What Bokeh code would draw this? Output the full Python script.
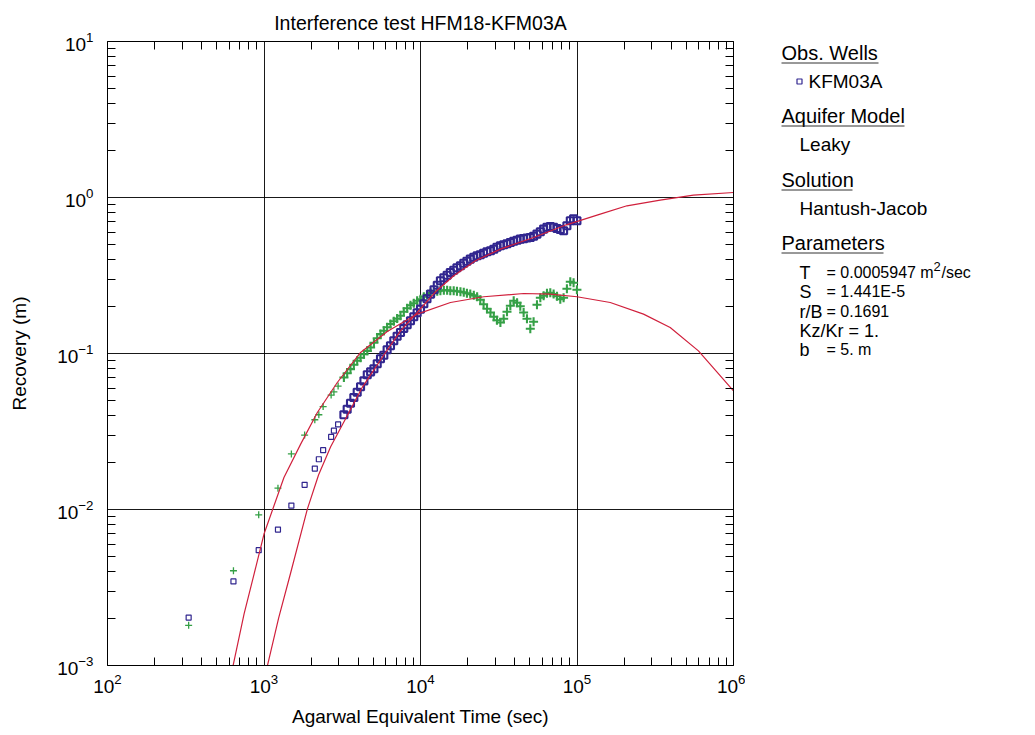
from bokeh.plotting import figure
from bokeh.layouts import row
from bokeh.models import Range1d, LogAxis, FixedTicker, CustomJSTickFormatter
from bokeh.core.properties import value
from bokeh.embed import file_html
from bokeh.resources import INLINE

FONT = "Liberation Sans"

# ---------------- data ----------------
# shared elapsed Agarwal equivalent times (s)
time_s = [330, 638, 925, 1228, 1496, 1818, 2112, 2241, 2387, 2685, 2797, 2975,
          3240, 3400, 3570, 3750, 3940, 4140, 4350, 4570, 4800, 5040,
          5290, 5550, 5830, 6120, 6430, 6750, 7090, 7450, 7820, 8220,
          8630, 9060, 9520, 10000, 10500, 11000, 11600, 12200, 12800, 13400,
          14100, 14800, 15500, 16300, 17100, 18000, 18900, 19800, 20800, 21900,
          23000, 24100, 25300, 26600, 28000, 29400, 30800, 32400, 34000, 35700,
          37500, 39400, 41400, 43400, 45600, 47900, 50300, 52800, 55500, 58300,
          61200, 64300, 67500, 70900, 74500, 78200, 82100, 86200, 90600, 95100,
          99900]

# KFM03A observed recovery (m) - blue squares
kfm03a_recovery = [0.00203, 0.00346, 0.00549, 0.00744, 0.0106, 0.0144, 0.0183, 0.0210,
                   0.0240, 0.0292, 0.0320, 0.0351,
                   0.0405, 0.0439, 0.0480, 0.0522, 0.0564, 0.0612, 0.0668, 0.0730, 0.0763, 0.0798,
                   0.0859, 0.0925, 0.0974, 0.1056, 0.1121, 0.1206, 0.1289, 0.1363, 0.1450, 0.1528,
                   0.1621, 0.1719, 0.1824, 0.1926, 0.2083, 0.2242, 0.2403, 0.2560, 0.2736, 0.2924,
                   0.3056, 0.3172, 0.3306, 0.3415, 0.3544, 0.3650, 0.3788, 0.3899, 0.4028, 0.4137,
                   0.4229, 0.4292, 0.4388, 0.4486, 0.4553, 0.4655, 0.4795, 0.4902, 0.4975, 0.5049,
                   0.5146, 0.5238, 0.5316, 0.5411, 0.5451, 0.5500, 0.5541, 0.5641, 0.5827, 0.6027,
                   0.6272, 0.6442, 0.6518, 0.6442, 0.6329, 0.6236, 0.6116, 0.6586, 0.7088, 0.7302,
                   0.7088]

# second observation series (m) - green crosses
second_recovery = [0.00181, 0.00405, 0.00925, 0.0137, 0.0227, 0.0300, 0.0376, 0.0405,
                   0.0457, 0.0541, 0.0568, 0.0618,
                   0.0702, 0.0747, 0.0794, 0.0847, 0.0898, 0.0939, 0.0988, 0.1040, 0.1093, 0.1171,
                   0.1252, 0.1332, 0.1398, 0.1472, 0.1544, 0.1609, 0.1674, 0.1745, 0.1851, 0.1949,
                   0.2037, 0.2098, 0.2177, 0.2226, 0.2310, 0.2378, 0.2439, 0.2468, 0.2504, 0.2523,
                   0.2541, 0.2541, 0.2523, 0.2523, 0.2504, 0.2486, 0.2468, 0.2431, 0.2403, 0.2360,
                   0.2310, 0.2209, 0.2067, 0.1934, 0.1832, 0.1719, 0.1632, 0.1580, 0.1669, 0.1851,
                   0.2022, 0.2177, 0.2113, 0.2007, 0.1832, 0.1669, 0.1440, 0.1597, 0.2052, 0.2276,
                   0.2343, 0.2431, 0.2450, 0.2403, 0.2326, 0.2226, 0.2276, 0.2598, 0.2881, 0.2839,
                   0.2560]

# Hantush-Jacob type curves (red)
fit_a_time = [1051, 1241, 1481, 1892, 2234, 2666, 3321, 4265, 5920, 7455, 9526, 12464,
              16313, 22440, 32390, 52840, 85440, 140800, 208500, 340100, 554900, 1000000]
fit_a_recovery = [0.000996, 0.00202, 0.00393, 0.01006, 0.01669, 0.02523, 0.03814, 0.06116,
                  0.1000, 0.1398, 0.1832, 0.2486, 0.3148, 0.3928, 0.4669, 0.5541, 0.6683,
                  0.7826, 0.8848, 0.9623, 1.036, 1.077]

fit_b_time = [634, 746, 864, 1000, 1341, 1715, 2192, 2940, 4141, 6131, 9526, 15540,
              25350, 45620, 67520, 100000, 163100, 266100, 393900, 597000, 1000000]
fit_b_recovery = [0.000996, 0.00214, 0.00385, 0.00696, 0.01604, 0.02625, 0.04186, 0.06518,
                  0.1015, 0.1384, 0.1789, 0.2123, 0.2310, 0.2424, 0.2403, 0.2310, 0.2123,
                  0.1789, 0.1468, 0.1040, 0.05767]

# axis ticks
x_major = [1e2, 1e3, 1e4, 1e5, 1e6]
y_major = [1e-3, 1e-2, 1e-1, 1e0, 1e1]
x_minor = [m * 10.0 ** e for e in range(2, 6) for m in range(2, 10)]
y_minor = [m * 10.0 ** e for e in range(-3, 1) for m in range(2, 10)]

BLUE = "#31268f"
GREEN = "#35a046"
RED = "#d0203c"

N_EARLY = 12  # sparse early readings; the rest form a dense band

# ---------------- main plot ----------------
p = figure(width=745, height=735, x_axis_type="log", y_axis_type="log",
           x_range=Range1d(1e2, 1e6), y_range=Range1d(1e-3, 1e1),
           output_backend="svg", toolbar_location=None,
           min_border_left=107, min_border_right=12, min_border_top=41,
           min_border_bottom=70, title="Interference test HFM18-KFM03A")
p.outline_line_color = "black"
p.outline_line_width = 1
p.title.align = "center"
p.title.text_font = FONT
p.title.text_font_size = "19.5px"
p.title.text_font_style = "normal"
p.title.text_color = "black"
p.title.text_line_height = 0.9
p.title.standoff = 16

xt = FixedTicker(ticks=x_major, minor_ticks=x_minor)
yt = FixedTicker(ticks=y_major, minor_ticks=y_minor)


def style_axis(ax):
    ax.axis_line_color = "black"
    ax.major_tick_in = 0
    ax.major_tick_out = 0
    ax.minor_tick_in = 8
    ax.minor_tick_out = 0
    ax.minor_tick_line_color = "black"


xa = p.xaxis[0]
ya = p.yaxis[0]
xa.ticker = xt
ya.ticker = yt
for ax in (xa, ya):
    style_axis(ax)
    ax.major_label_text_font = FONT
    ax.major_label_text_font_size = "19px"
    ax.major_label_text_color = "black"
    ax.axis_label_text_font = FONT
    ax.axis_label_text_font_size = "19px"
    ax.axis_label_text_font_style = "normal"
    ax.axis_label_text_color = "black"
xa.axis_label = "Agarwal Equivalent Time (sec)"
ya.axis_label = "Recovery (m)"
xa.major_label_standoff = 8
ya.major_label_standoff = 14
xa.axis_label_standoff = 10
ya.axis_label_standoff = 24

empty = CustomJSTickFormatter(code="return ''")
top = LogAxis(ticker=xt, formatter=empty, major_label_text_font_size="1px",
              major_label_standoff=0)
right = LogAxis(ticker=yt, formatter=empty, major_label_text_font_size="1px",
                major_label_standoff=0)
style_axis(top)
style_axis(right)
p.add_layout(top, "above")
p.add_layout(right, "right")

p.xgrid.ticker = FixedTicker(ticks=x_major)
p.ygrid.ticker = FixedTicker(ticks=y_major)
for g in (p.xgrid, p.ygrid):
    g.grid_line_color = "black"
    g.grid_line_width = 1
    g.grid_line_alpha = 0.9

# green series: sparse early points, then dense band
p.scatter(time_s[:N_EARLY], second_recovery[:N_EARLY], marker="cross", size=7,
          line_color=GREEN, line_width=1.3)
p.scatter(time_s[N_EARLY:], second_recovery[N_EARLY:], marker="cross", size=9,
          line_color=GREEN, line_width=2.1)
# KFM03A
p.scatter(time_s[:N_EARLY], kfm03a_recovery[:N_EARLY], marker="square", size=5,
          line_color=BLUE, fill_color=None, line_width=1.2)
p.scatter(time_s[N_EARLY:], kfm03a_recovery[N_EARLY:], marker="square", size=7,
          line_color=BLUE, fill_color=None, line_width=2.1)
p.line(fit_a_time, fit_a_recovery, line_color=RED, line_width=1.2)
p.line(fit_b_time, fit_b_recovery, line_color=RED, line_width=1.2)

# ---------------- legend panel ----------------
# frame aligned with the main plot: y range maps page pixels 41..665
leg = figure(width=290, height=735, x_range=Range1d(745, 1035), y_range=Range1d(665, 41),
             output_backend="svg", toolbar_location=None, min_border_left=0,
             min_border_right=0, min_border_top=41, min_border_bottom=70,
             x_axis_location=None, y_axis_location=None)
leg.outline_line_color = None
leg.grid.visible = False

heads = ["Obs. Wells", "Aquifer Model", "Solution", "Parameters"]
head_y = [52, 115, 179, 242]
head_end = [878, 904, 852, 883]
leg.text(x=[781] * 4, y=head_y, text=heads, text_font=value(FONT),
         text_font_size="20px", text_baseline="middle", text_color="black")
leg.segment(x0=[781] * 4, y0=[y + 10.5 for y in head_y], x1=head_end,
            y1=[y + 10.5 for y in head_y], line_color="#333333", line_width=1)

leg.scatter([799], [81], marker="square", size=5, line_color=BLUE, fill_color=None,
            line_width=1.2)
items = ["KFM03A", "Leaky", "Hantush-Jacob"]
leg.text(x=[808, 799, 799], y=[81, 144, 208], text=items, text_font=value(FONT),
         text_font_size="19px", text_baseline="middle", text_color="black")

par_names = ["T", "S", "r/B", "Kz/Kr = 1.", "b"]
par_y = [272, 291, 311, 330, 349]
leg.text(x=[799] * 5, y=par_y, text=par_names, text_font=value(FONT),
         text_font_size="18px", text_baseline="middle", text_color="black")
par_vals = ["= 0.0005947 m", "= 1.441E-5", "= 0.1691", "= 5. m"]
leg.text(x=[826] * 4, y=[272, 291, 311, 349], text=par_vals, text_font=value(FONT),
         text_font_size="16px", text_baseline="middle", text_color="black")
leg.text(x=[933], y=[266], text=["2"], text_font=value(FONT), text_font_size="13px",
         text_baseline="middle", text_color="black")
leg.text(x=[941], y=[272], text=["/sec"], text_font=value(FONT), text_font_size="16px",
         text_baseline="middle", text_color="black")

layout = row(p, leg)
open("out.html", "w").write(file_html(layout, INLINE))
